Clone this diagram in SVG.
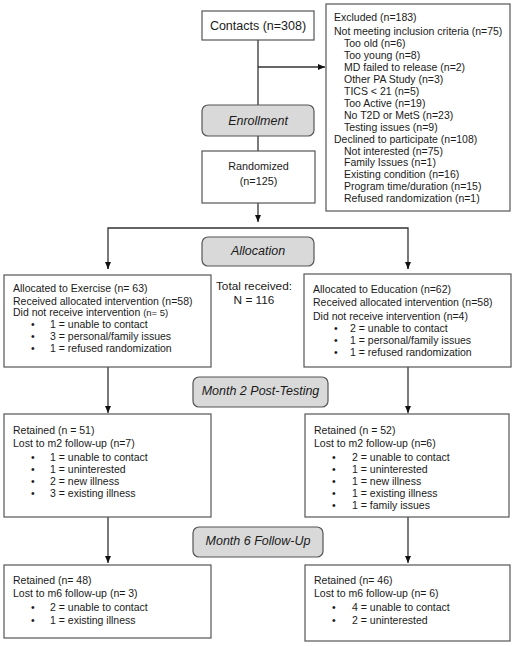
<svg xmlns="http://www.w3.org/2000/svg" width="516" height="646" viewBox="0 0 516 646">
<style>
text{font-family:"Liberation Sans",Arial,sans-serif;fill:#1a1a1a;}
.t{font-size:10.5px;}
.b{font-size:10.5px;}
.ph{font-size:12.5px;font-style:italic;text-anchor:middle;}
.box{fill:#fff;stroke:#555;stroke-width:1.2;}
.phase{fill:#d9d9d9;stroke:#555;stroke-width:1.2;}
.c{stroke:#333;stroke-width:1.3;fill:none;}
</style>
<defs>
<marker id="ah" markerWidth="8" markerHeight="8" refX="7" refY="4" orient="auto" markerUnits="userSpaceOnUse">
<path d="M0,1 L7,4 L0,7 Z" fill="#111"/>
</marker>
</defs>
<rect width="516" height="646" fill="#fff"/>
<g id="connectors">
<line class="c" x1="258" y1="40" x2="258" y2="151"/>
<line class="c" x1="258" y1="67" x2="325" y2="67" marker-end="url(#ah)"/>
<line class="c" x1="258" y1="203" x2="258" y2="222" marker-end="url(#ah)"/>
<polyline class="c" points="108,269 108,228 408,228 408,269"/>
<line class="c" x1="108" y1="262" x2="108" y2="269" marker-end="url(#ah)"/>
<line class="c" x1="408" y1="262" x2="408" y2="269" marker-end="url(#ah)"/>
<line class="c" x1="108" y1="367" x2="108" y2="413" marker-end="url(#ah)"/>
<line class="c" x1="408" y1="367" x2="408" y2="413" marker-end="url(#ah)"/>
<line class="c" x1="108" y1="517" x2="108" y2="563" marker-end="url(#ah)"/>
<line class="c" x1="408" y1="517" x2="408" y2="563" marker-end="url(#ah)"/>
</g>
<g id="contacts">
<rect class="box" x="202" y="11" width="112" height="29"/>
<text x="258" y="30" font-size="12.5" text-anchor="middle">Contacts (n=308)</text>
</g>
<g id="excluded">
<rect class="box" x="326" y="4" width="184" height="207"/>
<text class="t" x="334" y="21">Excluded (n=183)</text>
<text class="t" x="334" y="35">Not meeting inclusion criteria (n=75)</text>
<text class="t" x="344" y="47">Too old (n=6)</text>
<text class="t" x="344" y="58.9">Too young (n=8)</text>
<text class="t" x="344" y="70.8">MD failed to release (n=2)</text>
<text class="t" x="344" y="82.8">Other PA Study (n=3)</text>
<text class="t" x="344" y="94.7">TICS &lt; 21 (n=5)</text>
<text class="t" x="344" y="106.7">Too Active (n=19)</text>
<text class="t" x="344" y="118.6">No T2D or MetS (n=23)</text>
<text class="t" x="344" y="130.6">Testing issues (n=9)</text>
<text class="t" x="334" y="142.5">Declined to participate (n=108)</text>
<text class="t" x="344" y="154.5">Not interested (n=75)</text>
<text class="t" x="344" y="166.4">Family Issues (n=1)</text>
<text class="t" x="344" y="178.4">Existing condition (n=16)</text>
<text class="t" x="344" y="190.3">Program time/duration (n=15)</text>
<text class="t" x="344" y="202.3">Refused randomization (n=1)</text>
</g>
<g id="enrollment">
<rect class="phase" x="202" y="105" width="112" height="31" rx="6"/>
<text class="ph" x="258" y="125">Enrollment</text>
</g>
<g id="randomized">
<rect class="box" x="202" y="151" width="113" height="52"/>
<text x="258.5" y="170" font-size="10.8" text-anchor="middle">Randomized</text>
<text x="258.5" y="185" font-size="10.8" text-anchor="middle">(n=125)</text>
</g>
<g id="allocation">
<rect class="phase" x="202" y="237" width="112" height="29" rx="6"/>
<text class="ph" x="258" y="255">Allocation</text>
</g>
<g id="total">
<text x="254" y="290" font-size="11.8" text-anchor="middle">Total received:</text>
<text x="254" y="303.5" font-size="11.8" text-anchor="middle">N = 116</text>
</g>
<g id="exercise">
<rect class="box" x="4" y="275" width="207" height="92"/>
<text class="t" x="13" y="292">Allocated to Exercise (n= 63)</text>
<text class="t" x="13" y="305">Received allocated intervention (n=58)</text>
<text class="t" x="13" y="316">Did not receive intervention <tspan font-size="9.5">(n= 5)</tspan></text>
<text class="b" x="31" y="328">•</text><text class="t" x="50" y="328">1 = unable to contact</text>
<text class="b" x="31" y="340">•</text><text class="t" x="50" y="340">3 = personal/family issues</text>
<text class="b" x="31" y="352">•</text><text class="t" x="50" y="352">1 = refused randomization</text>
</g>
<g id="education">
<rect class="box" x="304" y="274" width="207" height="93"/>
<text class="t" x="313" y="293">Allocated to Education (n=62)</text>
<text class="t" x="313" y="306">Received allocated intervention (n=58)</text>
<text class="t" x="313" y="320">Did not receive intervention (n=4)</text>
<text class="b" x="334" y="332">•</text><text class="t" x="350" y="332">2 = unable to contact</text>
<text class="b" x="334" y="344">•</text><text class="t" x="350" y="344">1 = personal/family issues</text>
<text class="b" x="334" y="356">•</text><text class="t" x="350" y="356">1 = refused randomization</text>
</g>
<g id="month2">
<rect class="phase" x="193" y="377" width="135" height="30" rx="6"/>
<text class="ph" x="260.5" y="395">Month 2 Post-Testing</text>
</g>
<g id="m2-exercise">
<rect class="box" x="4" y="414" width="207" height="103"/>
<text class="t" x="13" y="434">Retained (n = 51)</text>
<text class="t" x="13" y="447">Lost to m2 follow-up (n=7)</text>
<text class="b" x="31" y="461">•</text><text class="t" x="50" y="461">1 = unable to contact</text>
<text class="b" x="31" y="473">•</text><text class="t" x="50" y="473">1 = uninterested</text>
<text class="b" x="31" y="485">•</text><text class="t" x="50" y="485">2 = new illness</text>
<text class="b" x="31" y="497">•</text><text class="t" x="50" y="497">3 = existing illness</text>
</g>
<g id="m2-education">
<rect class="box" x="305" y="414" width="204" height="103"/>
<text class="t" x="314" y="434">Retained (n = 52)</text>
<text class="t" x="314" y="447">Lost to m2 follow-up (n=6)</text>
<text class="b" x="332" y="461">•</text><text class="t" x="352" y="461">2 = unable to contact</text>
<text class="b" x="332" y="473">•</text><text class="t" x="352" y="473">1 = uninterested</text>
<text class="b" x="332" y="485">•</text><text class="t" x="352" y="485">1 = new illness</text>
<text class="b" x="332" y="497">•</text><text class="t" x="352" y="497">1 = existing illness</text>
<text class="b" x="332" y="509">•</text><text class="t" x="352" y="509">1 = family issues</text>
</g>
<g id="month6">
<rect class="phase" x="193" y="527" width="130" height="30" rx="6"/>
<text class="ph" x="258" y="545">Month 6 Follow-Up</text>
</g>
<g id="m6-exercise">
<rect class="box" x="4" y="565" width="207" height="73"/>
<text class="t" x="13" y="584">Retained (n= 48)</text>
<text class="t" x="13" y="597">Lost to m6 follow-up (n= 3)</text>
<text class="b" x="31" y="611">•</text><text class="t" x="50" y="611">2 = unable to contact</text>
<text class="b" x="31" y="624">•</text><text class="t" x="50" y="624">1 = existing illness</text>
</g>
<g id="m6-education">
<rect class="box" x="305" y="565" width="205" height="76"/>
<text class="t" x="314" y="584">Retained (n= 46)</text>
<text class="t" x="314" y="597">Lost to m6 follow-up (n= 6)</text>
<text class="b" x="332" y="611">•</text><text class="t" x="352" y="611">4 = unable to contact</text>
<text class="b" x="332" y="624">•</text><text class="t" x="352" y="624">2 = uninterested</text>
</g>
</svg>
